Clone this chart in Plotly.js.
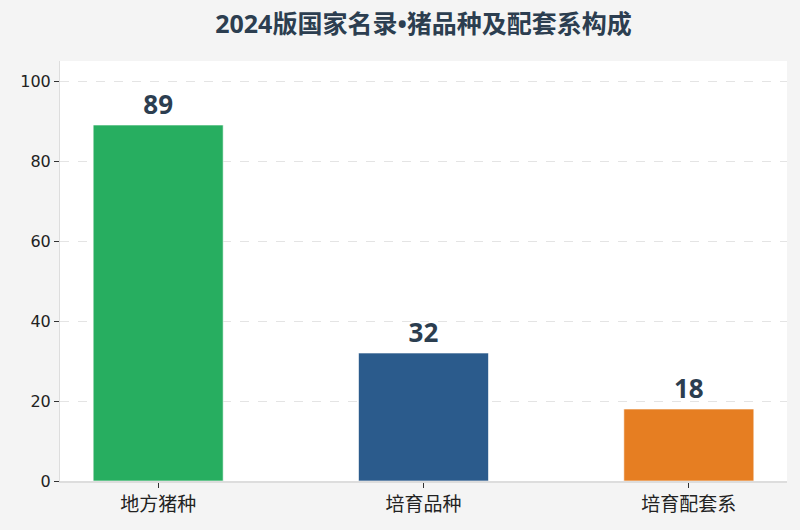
<!DOCTYPE html>
<html>
<head>
<meta charset="utf-8">
<script src="https://cdn.plot.ly/plotly-3.0.1.min.js"></script>
<style>
  html, body { margin: 0; padding: 0; background: #f4f4f4; }
  #chart { width: 800px; height: 530px; }
</style>
</head>
<body>
<div id="chart"></div>
<script>
// 数据
const categories = ['地方猪种', '培育品种', '培育配套系'];
const counts = [89, 32, 18];
const barColors = ['#27ae60', '#2b5b8c', '#e67e22'];

const FONT = '"Noto Sans", "Noto Sans CJK SC", sans-serif';
const TICKFONT = '"DejaVu Sans", "Noto Sans CJK SC", sans-serif';

const trace = {
  type: 'bar',
  x: categories,
  y: counts,
  width: 0.49,
  marker: {
    color: barColors,
    line: { color: 'rgba(255,255,255,0.6)', width: 1 }
  },
  text: counts.map(String),
  textposition: 'outside',
  cliponaxis: false,
  textfont: { family: FONT, size: 26, color: '#2c3e50', weight: 'bold' },
  hoverinfo: 'x+y'
};

const layout = {
  width: 800,
  height: 530,
  paper_bgcolor: '#f4f4f4',
  plot_bgcolor: '#ffffff',
  margin: { l: 60, r: 13, t: 61, b: 49 },
  title: {
    text: '<b>2024版国家名录•猪品种及配套系构成</b>',
    font: { family: FONT, size: 25, color: '#2c3e50' },
    xref: 'paper',
    x: 0.5,
    xanchor: 'center',
    y: 0.955,
    yanchor: 'middle'
  },
  xaxis: {
    range: [-0.37, 2.37],
    showline: true,
    linecolor: '#dddddd',
    linewidth: 2,
    ticks: 'outside',
    ticklen: 5,
    tickcolor: '#333',
    tickfont: { family: TICKFONT, size: 19, color: '#222' },
    showgrid: false,
    zeroline: false
  },
  yaxis: {
    range: [0, 105],
    tickvals: [0, 20, 40, 60, 80, 100],
    showline: true,
    linecolor: '#dddddd',
    linewidth: 1,
    ticks: 'outside',
    ticklen: 5,
    tickcolor: '#333',
    tickfont: { family: TICKFONT, size: 16, color: '#222' },
    showgrid: true,
    gridcolor: '#e4e4e4',
    griddash: 'dash',
    zeroline: false
  },
  showlegend: false
};

Plotly.newPlot('chart', [trace], layout, { displayModeBar: false, staticPlot: true });
</script>
</body>
</html>
